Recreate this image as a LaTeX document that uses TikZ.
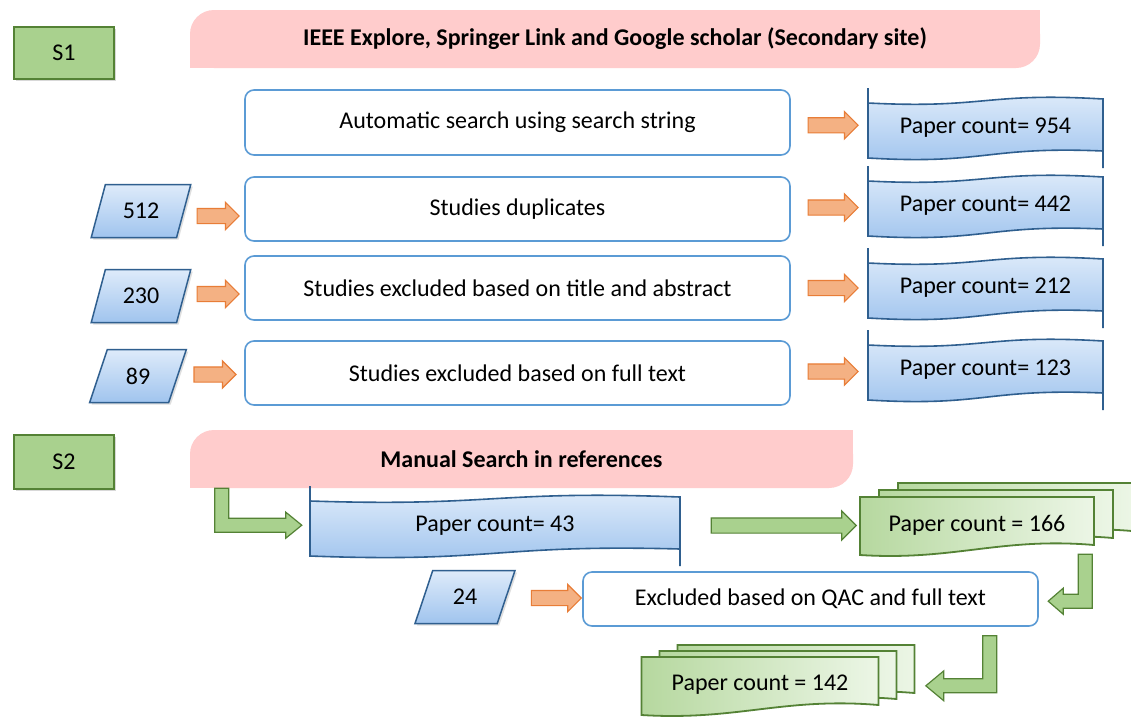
\documentclass[tikz,border=0pt]{standalone}
\usepackage{fontspec}
\setmainfont{Carlito}
\usetikzlibrary{shapes.geometric,shapes.arrows,calc,shadows}

\definecolor{hdrpink}{RGB}{255,204,204}
\definecolor{sgreen}{RGB}{169,209,142}
\definecolor{sgreenline}{RGB}{84,130,53}
\definecolor{boxblue}{RGB}{91,155,213}
\definecolor{tapeline}{RGB}{47,95,143}
\definecolor{tapetop}{RGB}{222,235,250}
\definecolor{tapebot}{RGB}{160,196,238}
\definecolor{arrfill}{RGB}{244,177,131}
\definecolor{arrline}{RGB}{232,125,55}
\definecolor{doclight}{RGB}{236,246,230}

\tikzset{
  every node/.style={font=\fontsize{24}{28}\selectfont},
  stagebox/.style={draw=sgreenline, fill=sgreen, line width=1.2pt, minimum width=100pt, minimum height=52pt,
    drop shadow={opacity=0.3, shadow xshift=2pt, shadow yshift=-2pt}},
  hdrbox/.style={fill=hdrpink, rounded corners=24pt, minimum height=58pt, font=\fontsize{24}{28}\selectfont\bfseries},
  stepbox/.style={draw=boxblue, line width=1.6pt, rounded corners=9pt, fill=white, minimum width=545pt, minimum height=64pt},
  countpara/.style={trapezium, trapezium left angle=69, trapezium right angle=111, trapezium stretches=true,
    draw=tapeline, line width=1.5pt, top color=tapetop, bottom color=tapebot, minimum width=100pt, minimum height=53pt,
    drop shadow={opacity=0.25, shadow xshift=2pt, shadow yshift=-2pt}},
  orarrow/.style={single arrow, draw=arrline, fill=arrfill, line width=1.2pt, inner xsep=0pt, inner ysep=7pt,
    single arrow head extend=6pt, minimum height=50pt},
  grarrow/.style={single arrow, draw=sgreenline, fill=sgreen, line width=1.2pt, inner xsep=0pt, inner ysep=7pt,
    single arrow head extend=7pt, minimum height=145pt},
  garrow/.style={draw=sgreenline, fill=sgreen, line width=1.2pt, line join=miter},
  tapeedge/.style={draw=tapeline, line width=1.6pt},
  docedge/.style={draw=sgreenline, line width=1.8pt, line join=miter}
}

% blue tape: name, x, y, width, text
\newcommand{\papertape}[5]{%
  \pgfmathsetmacro{\hw}{#4/2}
  \begin{scope}[shift={(#2,#3)}]
    \fill[top color=tapetop, bottom color=tapebot] (-\hw,-25) -- (-\hw,30) .. controls (0,37) and (0,18) .. (\hw,23)
      -- (\hw,-29) .. controls (0,-36) and (0,-19) .. (-\hw,-25) -- cycle;
    \draw[tapeedge] (-\hw,-40) -- (-\hw,30) .. controls (0,37) and (0,18) .. (\hw,23);
    \draw[tapeedge] (-\hw,-25) .. controls (0,-19) and (0,-36) .. (\hw,-29) -- (\hw,40);
    \node[minimum width=#4pt, minimum height=54pt] (#1) at (0,0) {#5};
  \end{scope}}

% green stack of papers: name, x, y, width, text, dx, dy
\newcommand{\paperstack}[7]{%
  \pgfmathsetmacro{\hw}{#4/2}
  \begin{scope}[shift={(#2,#3)}]
    \foreach \k in {2,1,0} {
      \draw[docedge, left color=sgreen!85, right color=doclight, shift={(\k*#6,\k*(#7))}]
        (-\hw,-28) -- (\hw,-28) -- (\hw,20) .. controls (0.2*\hw,12) and (-0.2*\hw,36) .. (-\hw,30) -- cycle;
    }
    \node[minimum width=#4pt, minimum height=58pt] (#1) at (0,0) {#5};
  \end{scope}}

\begin{document}
\begin{tikzpicture}[x=1pt,y=-1pt]
  \fill[white] (0,0) rectangle (1131,718);
  \useasboundingbox (0,0) rectangle (1131,718);

  \node[stagebox] (sone) at (64,53) {S1};
  \node[hdrbox, minimum width=850pt] (hdrone) at (615,39) {IEEE Explore, Springer Link and Google scholar (Secondary site)};
  \fill[hdrpink] (hdrone.north east) rectangle ++(-30,30);
  \fill[hdrpink] (hdrone.south west) rectangle ++(30,-30);

  \node[stepbox, minimum height=65pt] (auto) at (517.5,122.5) {Automatic search using search string};
  \node[stepbox] (dup) at (517.5,209) {Studies duplicates};
  \node[stepbox] (title) at (517.5,288) {Studies excluded based on title and abstract};
  \node[stepbox] (full) at (517.5,373) {Studies excluded based on full text};

  \papertape{c954}{985.5}{128}{235}{Paper count= 954}
  \papertape{c442}{985.5}{206}{235}{Paper count= 442}
  \papertape{c212}{985.5}{288}{235}{Paper count= 212}
  \papertape{c123}{985.5}{370}{235}{Paper count= 123}

  \node[countpara] (p512) at (141,211) {512};
  \node[countpara] (p230) at (141,296) {230};
  \node[countpara, minimum width=97pt] (p89) at (138,376) {89};

  \node[orarrow] at ($(auto.east)!0.5!(c954.west)$) {};
  \node[orarrow] at ($(dup.east)!0.5!(c442.west)$) {};
  \node[orarrow] at ($(title.east)!0.5!(c212.west)$) {};
  \node[orarrow] at ($(full.east)!0.5!(c123.west)$) {};
  \node[orarrow, minimum height=42pt] at ($(p512.east)!0.5!(dup.west)+(0,6)$) {};
  \node[orarrow, minimum height=42pt] at ($(p230.east)!0.5!(title.west)+(0,2)$) {};
  \node[orarrow, minimum height=42pt] at ($(p89.east)!0.5!(full.west)$) {};

  \node[stagebox, minimum height=54pt] (stwo) at (64,462) {S2};
  \node[hdrbox, minimum width=663pt] (hdrtwo) at (521.5,459) {Manual Search in references};
  \fill[hdrpink] (hdrtwo.north east) rectangle ++(-30,30);
  \fill[hdrpink] (hdrtwo.south west) rectangle ++(30,-30);

  \papertape{c43}{495}{526}{370}{Paper count= 43}
  \paperstack{c166}{977}{525}{234}{Paper count = 166}{19}{-7}
  \paperstack{c142}{760}{685}{237}{Paper count = 142}{18}{-6}

  \node[stepbox, minimum width=455pt, minimum height=54pt] (qac) at (810.5,599) {Excluded based on QAC and full text};
  \node[countpara] (p24) at (465,597) {24};
  \node[orarrow] at ($(p24.east)!0.5!(qac.west)+(8,0)$) {};

  \draw[garrow] ($(hdrtwo.south west)+(25,0)$) -- ++(14,0) -- ++(0,30) -- ++(57,0) -- ++(0,-6) -- ++(16,13)
    -- ++(-16,13) -- ++(0,-6) -- ++(-71,0) -- cycle;
  \node[grarrow] at ($(c43.east)!0.5!(c166.west)+(10,0)$) {};
  \draw[garrow] ($(c166.south east)+(-16,0)$) -- ++(14,0) -- ++(0,54) -- ++(-29,0) -- ++(0,6) -- ++(-15,-13)
    -- ++(15,-13) -- ++(0,6) -- ++(15,0) -- cycle;
  \draw[garrow] ($(qac.south east)+(-56,9)$) -- ++(14,0) -- ++(0,57) -- ++(-53,0) -- ++(0,8) -- ++(-18,-15)
    -- ++(18,-15) -- ++(0,8) -- ++(39,0) -- cycle;
\end{tikzpicture}
\end{document}
